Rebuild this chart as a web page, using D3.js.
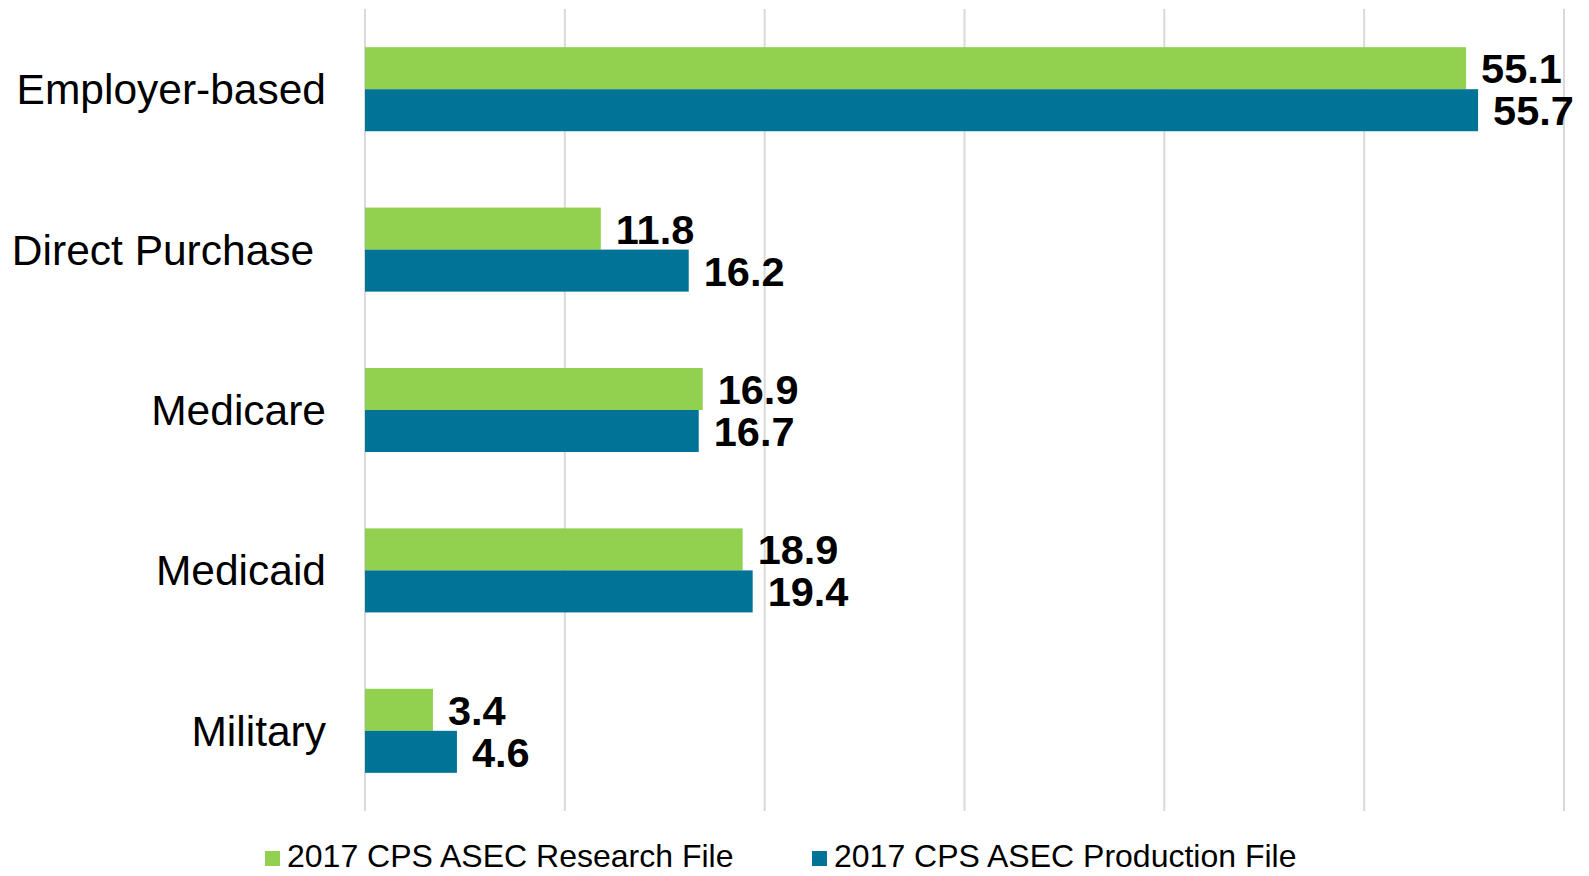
<!DOCTYPE html>
<html>
<head>
<meta charset="utf-8">
<script src="https://cdn.jsdelivr.net/npm/d3@7"></script>
<style>
  html, body { margin: 0; padding: 0; background: #ffffff; }
  svg { display: block; font-family: "Liberation Sans", Arial, sans-serif; }
</style>
</head>
<body>
<svg id="chart" width="1589" height="876"></svg>
<script>
const categories = ["Employer-based", "Direct Purchase ", "Medicare", "Medicaid", "Military"];
const seriesNames = ["2017 CPS ASEC Research File", "2017 CPS ASEC Production File"];
const researchValues = [55.1, 11.8, 16.9, 18.9, 3.4];
const productionValues = [55.7, 16.2, 16.7, 19.4, 4.6];
const xTicks = [0, 10, 20, 30, 40, 50, 60];
const colors = ["#92D050", "#007396"];

const svg = d3.select("#chart");
const plot = { left: 365, right: 1564, top: 9, bottom: 811 };

const x = d3.scaleLinear().domain([0, 60]).range([plot.left, plot.right]);
const y = d3.scaleBand().domain(categories).range([plot.top, plot.bottom])
  .paddingInner(0.476).paddingOuter(0.238);
const sub = d3.scaleBand().domain([0, 1]).range([0, y.bandwidth()]);

// gridlines
svg.append("g").selectAll("line").data(xTicks).join("line")
  .attr("x1", d => x(d)).attr("x2", d => x(d))
  .attr("y1", plot.top).attr("y2", plot.bottom)
  .attr("stroke", "#D9D9D9").attr("stroke-width", 2);

const rows = categories.map((c, i) => ({ cat: c, vals: [researchValues[i], productionValues[i]] }));

const groups = svg.append("g").selectAll("g").data(rows).join("g")
  .attr("transform", d => `translate(0,${y(d.cat)})`);

groups.selectAll("rect").data(d => d.vals.map((v, s) => ({ v, s }))).join("rect")
  .attr("x", x(0))
  .attr("y", d => sub(d.s))
  .attr("width", d => x(d.v) - x(0))
  .attr("height", sub.bandwidth())
  .attr("fill", d => colors[d.s]);

groups.selectAll("text.val").data(d => d.vals.map((v, s) => ({ v, s }))).join("text")
  .attr("class", "val")
  .attr("x", d => x(d.v) + 15)
  .attr("y", d => sub(d.s) + sub.bandwidth() / 2 + 15)
  .attr("font-size", 41.5).attr("font-weight", "bold").attr("fill", "#000")
  .text(d => d.v.toFixed(1));

// category axis labels
svg.append("g").selectAll("text").data(categories).join("text")
  .attr("x", plot.left - 39)
  .attr("y", d => y(d) + y.bandwidth() / 2 + 15)
  .attr("text-anchor", "end")
  .attr("font-size", 42.5)
  .attr("fill", "#000")
  .style("white-space", "pre")
  .text(d => d);

// legend
const legendItems = [
  { name: seriesNames[0], color: colors[0], x: 265 },
  { name: seriesNames[1], color: colors[1], x: 812 }
];
const lg = svg.append("g").selectAll("g").data(legendItems).join("g")
  .attr("transform", d => `translate(${d.x},0)`);
lg.append("rect").attr("x", 0).attr("y", 851).attr("width", 15).attr("height", 15)
  .attr("fill", d => d.color);
lg.append("text").attr("x", 22).attr("y", 867).attr("font-size", 32).attr("fill", "#000")
  .text(d => d.name);
</script>
</body>
</html>
